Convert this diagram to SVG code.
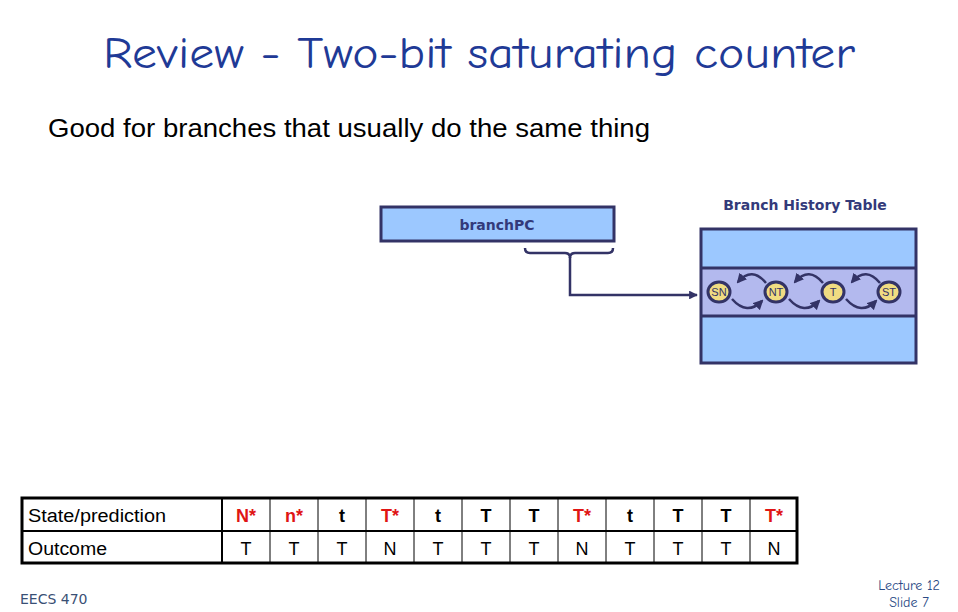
<svg xmlns="http://www.w3.org/2000/svg" width="958" height="612" viewBox="0 0 958 612">
<style>
.title{font-family:"Comic Neue","Liberation Sans",sans-serif;font-size:44px;fill:#1f3a96}
.sub{font-family:"Liberation Sans",sans-serif;font-size:26px;fill:#000}
.lbl{font-family:"DejaVu Sans","Liberation Sans",sans-serif;font-weight:bold;font-size:14px;fill:#333a7a}
.st{font-family:"Liberation Sans",sans-serif;font-size:11px;fill:#333366;text-anchor:middle}
.cell{font-family:"Liberation Sans",sans-serif;font-size:18px;text-anchor:middle;fill:#000}
.hdr{font-family:"Liberation Sans",sans-serif;font-size:18px;text-anchor:start;fill:#000}
.b{font-weight:bold}
.r{fill:#e01515}
.nav{stroke:#333366;fill:none}
.node{fill:#f0dc82;stroke:#333366;stroke-width:3}
.arc{stroke:#333366;stroke-width:2.5;fill:none;marker-end:url(#ah)}
.foot{font-family:"DejaVu Sans",sans-serif;font-size:14px;fill:#3a5075}
.foot2{font-family:"Comic Neue","DejaVu Sans",sans-serif;font-size:14px;fill:#2a4a85;text-anchor:middle}
</style>
<defs>
<marker id="ah" viewBox="0 0 10 10" refX="8" refY="5" markerWidth="4" markerHeight="4" orient="auto" markerUnits="strokeWidth">
<path d="M0,0 L10,5 L0,10 z" fill="#333366"/>
</marker>
<marker id="ah2" viewBox="0 0 10 10" refX="9" refY="5" markerWidth="3.5" markerHeight="3.5" orient="auto" markerUnits="strokeWidth">
<path d="M0,0 L10,5 L0,10 z" fill="#333366"/>
</marker>
</defs>
<rect width="958" height="612" fill="#fff"/>
<text class="title" x="479" y="68" text-anchor="middle" textLength="752" lengthAdjust="spacingAndGlyphs">Review - Two-bit saturating counter</text>
<text class="sub" x="48" y="137" textLength="602" lengthAdjust="spacingAndGlyphs">Good for branches that usually do the same thing</text>

<g id="branchPC">
<rect x="381" y="207" width="233" height="34" fill="#9cc8ff" stroke="#333366" stroke-width="3"/>
<text class="lbl" x="497" y="230" text-anchor="middle">branchPC</text>
</g>

<g id="connectors">
<path class="nav" stroke-width="2.5" d="M525,248 Q525,253 530,253 L565,253 Q570,253 570,258 Q570,253 575,253 L608,253 Q613,253 613,248"/>
<path class="nav" stroke-width="2.5" d="M570,257 L570,295 L697,295" marker-end="url(#ah2)"/>
</g>

<g id="bht">
<text class="lbl" x="805" y="210" text-anchor="middle">Branch History Table</text>
<rect x="701" y="229" width="215" height="134" fill="#9cc8ff"/>
<rect x="701" y="268" width="215" height="48" fill="#b3b9ee"/>
<rect x="701" y="229" width="215" height="134" class="nav" stroke-width="3"/>
<line x1="701" y1="268" x2="916" y2="268" class="nav" stroke-width="3"/>
<line x1="701" y1="316" x2="916" y2="316" class="nav" stroke-width="3"/>
</g>

<g id="arcs">
<path class="arc" d="M766,283 Q752,266 738,282"/>
<path class="arc" d="M823,283 Q809,266 795,282"/>
<path class="arc" d="M880,283 Q866,266 852,282"/>
<path class="arc" d="M732,299 Q747,316 762,301"/>
<path class="arc" d="M789,299 Q804,316 819,301"/>
<path class="arc" d="M846,299 Q861,316 876,301"/>
</g>

<g id="SN"><ellipse class="node" cx="719" cy="292" rx="11" ry="10"/><text class="st" x="719" y="296" font-size="10">SN</text></g>
<g id="NT"><ellipse class="node" cx="776" cy="292" rx="11" ry="10"/><text class="st" x="776" y="296">NT</text></g>
<g id="T"><ellipse class="node" cx="833" cy="292" rx="11" ry="10"/><text class="st" x="833" y="296">T</text></g>
<g id="ST"><ellipse class="node" cx="889" cy="292" rx="11" ry="10"/><text class="st" x="889" y="296">ST</text></g>

<g id="table">
<rect x="22" y="498" width="775" height="65" fill="#fff" stroke="#000" stroke-width="3"/>
<line x1="22" y1="531" x2="797" y2="531" stroke="#000" stroke-width="2"/>
<line x1="222" y1="498" x2="222" y2="563" stroke="#000" stroke-width="2"/>
<g stroke="#000" stroke-width="1">
<line x1="270" y1="498" x2="270" y2="563"/>
<line x1="318" y1="498" x2="318" y2="563"/>
<line x1="366" y1="498" x2="366" y2="563"/>
<line x1="414" y1="498" x2="414" y2="563"/>
<line x1="462" y1="498" x2="462" y2="563"/>
<line x1="510" y1="498" x2="510" y2="563"/>
<line x1="558" y1="498" x2="558" y2="563"/>
<line x1="606" y1="498" x2="606" y2="563"/>
<line x1="654" y1="498" x2="654" y2="563"/>
<line x1="702" y1="498" x2="702" y2="563"/>
<line x1="750" y1="498" x2="750" y2="563"/>
</g>
<text class="hdr" x="28" y="522" textLength="138" lengthAdjust="spacingAndGlyphs">State/prediction</text>
<text class="hdr" x="28" y="555" textLength="79" lengthAdjust="spacingAndGlyphs">Outcome</text>
<text class="cell b r" x="246" y="522">N*</text>
<text class="cell b r" x="294" y="522">n*</text>
<text class="cell b" x="342" y="522">t</text>
<text class="cell b r" x="390" y="522">T*</text>
<text class="cell b" x="438" y="522">t</text>
<text class="cell b" x="486" y="522">T</text>
<text class="cell b" x="534" y="522">T</text>
<text class="cell b r" x="582" y="522">T*</text>
<text class="cell b" x="630" y="522">t</text>
<text class="cell b" x="678" y="522">T</text>
<text class="cell b" x="726" y="522">T</text>
<text class="cell b r" x="774" y="522">T*</text>
<text class="cell" x="246" y="555">T</text>
<text class="cell" x="294" y="555">T</text>
<text class="cell" x="342" y="555">T</text>
<text class="cell" x="390" y="555">N</text>
<text class="cell" x="438" y="555">T</text>
<text class="cell" x="486" y="555">T</text>
<text class="cell" x="534" y="555">T</text>
<text class="cell" x="582" y="555">N</text>
<text class="cell" x="630" y="555">T</text>
<text class="cell" x="678" y="555">T</text>
<text class="cell" x="726" y="555">T</text>
<text class="cell" x="774" y="555">N</text>
</g>

<text class="foot" x="20" y="604">EECS 470</text>
<text class="foot2" x="909" y="590">Lecture 12</text>
<text class="foot2" x="909" y="607">Slide 7</text>
</svg>
